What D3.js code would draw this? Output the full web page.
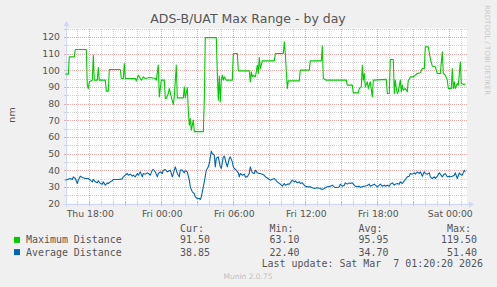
<!DOCTYPE html>
<html><head><meta charset="utf-8">
<script src="https://cdn.jsdelivr.net/npm/d3@7"></script>
<style>
html,body{margin:0;padding:0;background:#F0F0F0;}
svg{display:block;}
text{font-family:"DejaVu Sans",sans-serif;}
.mono{font-family:"DejaVu Sans Mono",monospace;}
</style></head>
<body>
<script>
// ---- data (time = 5-minute steps after Thu 16:00) ----
const title = "ADS-B/UAT Max Range - by day";
const yLabel = "nm";
const startTime = new Date(2026, 2, 5, 16, 0);
const stepMinutes = 5;
const totalSteps = 400;
const yTicks = [20,30,40,50,60,70,80,90,100,110,120];
const xTickLabels = ["Thu 18:00","Fri 00:00","Fri 06:00","Fri 12:00","Fri 18:00","Sat 00:00"];

const maxDistance = [[0,97.6],[3,97.6],[4,108],[9,108],[10,112.4],[21,112.4],[22,91],[23,89],[24,93],[27,94],[28,109],[29,94],[32,94],[33,101.6],[34,94],[40,94],[41,87.4],[43,87.4],[44,100.4],[55,100.4],[56,95],[58,95],[59,104],[60,95],[70,95],[71,93.5],[73,97],[75,95],[76,94],[78,96],[80,95],[83,95.5],[86,95.5],[90,95],[91,94],[93,103],[94,84],[96,94],[99,94],[100,83],[101,83],[103,86],[104,89],[106,84],[108,79.5],[109,84],[111,103],[112,83.4],[118,83.4],[119,90],[120,83.4],[122,89.5],[123,76],[124,67],[125,71],[126,64],[128,70],[129,63.1],[138,63.1],[139,82],[140,119.5],[151,119.5],[152,98],[153,82],[154,96.5],[155,81],[156,94],[157,97],[158,94],[159,96],[161,94],[167,94],[168,110],[172,110],[173,99.6],[184,99.6],[185,93],[186,99],[187,96],[188,97],[190,96],[191,99],[192,103],[193,98],[194,107.6],[195,101],[196,103],[197,105.6],[209,105.6],[210,110],[218,110],[219,117],[220,110],[222,89],[223,93.6],[234,93.6],[235,100],[244,100],[245,105.6],[256,105.6],[257,114.4],[258,95],[261,94],[281,94],[282,91],[287,91],[288,86.4],[293,86.4],[294,89],[296,90],[297,103],[298,94],[299,98],[300,90],[302,93],[303,89],[305,93],[307,84],[308,94],[321,94.5],[322,86],[324,86],[325,106.4],[328,106.4],[329,86],[330,94],[331,89],[332,86],[333,87],[335,94],[336,87],[337,91],[338,88],[340,89],[342,87],[343,94],[344,94.5],[345,96],[348,96],[352,98],[355,98.5],[357,101],[359,101],[360,114],[363,114],[365,107],[367,102.4],[370,102],[372,98],[375,98],[377,111],[378,98],[380,97],[382,94],[383,89],[386,89],[387,101],[388,89],[389,93],[390,89],[392,92],[393,91],[395,105],[396,92],[398,91.5],[400,91.5]];

const avgDistance = [[0,34],[5,35],[7,34.4],[8,36],[10,35],[12,32],[13,34],[15,36.4],[17,35.6],[20,35],[23,35],[25,34],[27,33],[28,34.4],[30,33],[32,32.4],[33,33.6],[35,32],[37,31.6],[38,33],[40,31],[42,32.4],[43,32],[45,33],[47,33.6],[48,34.4],[50,34.4],[53,34.4],[57,34.8],[58,36],[60,37],[62,38],[63,37],[65,37.6],[67,36.4],[68,37],[70,36],[72,38],[73,37],[75,39],[77,36],[78,38],[80,37.6],[82,38.4],[83,38],[85,37],[87,40],[88,40.4],[90,39],[92,36],[93,38],[95,39],[97,38],[98,40],[100,40.4],[102,39],[105,40],[107,36],[109,40],[110,42],[112,38],[114,36],[115,40],[117,40],[119,38.4],[120,39.6],[122,39],[124,34],[125,30],[127,27],[129,26],[130,24],[132,23],[134,23],[135,22.4],[136,24],[138,30],[139,33],[141,40],[143,42],[144,44],[146,51.4],[147,50],[149,49],[150,42],[151,47],[153,48],[155,42],[156,41],[158,48],[159,48.4],[161,44],[162,42],[164,47],[165,48],[167,45],[168,42],[169,41],[171,40],[173,38.4],[174,36],[175,38],[177,37],[179,37.6],[180,36],[182,36],[184,38],[185,42],[187,38.4],[189,38],[190,40],[192,38.4],[194,38],[195,38],[197,37.6],[199,37],[200,36],[202,35.3],[205,34],[209,35],[212,33],[215,31.6],[217,30.4],[219,32],[220,31],[222,31.6],[224,31.6],[225,32.4],[227,34],[229,33],[230,33.6],[232,32.4],[234,33],[235,32],[237,32.4],[239,31],[240,30.4],[242,30],[245,30],[247,29.4],[249,29],[252,29.4],[255,29],[257,28.4],[259,29],[262,30],[265,30.4],[267,31],[269,30],[270,29.6],[272,29.6],[274,30],[275,31.6],[277,30.4],[279,31],[280,32.4],[282,31.6],[284,32.4],[285,32],[287,32.4],[289,31],[290,30.4],[292,30],[294,30.4],[295,29.6],[297,30],[299,30.4],[302,30.8],[304,31.6],[305,30.4],[307,31],[309,31.6],[310,31],[312,30],[314,31],[315,31.6],[317,30.4],[319,31],[320,30.4],[322,31],[324,30.4],[325,31.6],[327,32.4],[329,31],[330,31.6],[332,32],[334,31.6],[335,33],[337,32],[339,33.6],[340,34.4],[342,36],[344,36.4],[345,38],[347,37.6],[349,38.4],[350,37.6],[352,39],[354,38],[355,39],[357,36.4],[359,39],[360,38],[362,37.6],[364,38.4],[365,36],[367,35],[369,36],[370,35],[372,36.4],[374,38.4],[375,37.6],[377,36],[379,37.6],[380,38],[382,36],[384,36.4],[385,36],[387,36.4],[389,37],[390,38.4],[392,35],[394,38.4],[395,37.6],[397,37],[399,40],[400,38.85]];

const seriesNames = ["Maximum Distance","Average Distance"];
const seriesColors = ["#00CC00","#0066B3"];
const statHeaders = ["Cur:","Min:","Avg:","Max:"];
const statCur = ["91.50","38.85"];
const statMin = ["63.10","22.40"];
const statAvg = ["95.95","34.70"];
const statMax = ["119.50","51.40"];
const lastUpdate = "Last update: Sat Mar  7 01:20:20 2026";
const footer = "Munin 2.0.75";
const sideText = "RRDTOOL / TOBI OETIKER";

// ---- drawing ----
const W = 497, H = 287;
const svg = d3.select("body").append("svg").attr("width", W).attr("height", H);
svg.append("rect").attr("width", W).attr("height", H).attr("fill", "#F0F0F0");

const toTime = s => new Date(startTime.getTime() + s * stepMinutes * 60000);
const endTime = toTime(totalSteps);
const x = d3.scaleTime().domain([startTime, endTime]).range([65.3, 465.3]);
const y = d3.scaleLinear().domain([20, 125]).range([203.5, 28.5]);

const L = 66, R = 467, T = y(125), B = y(20);
svg.append("rect").attr("x", L).attr("y", T).attr("width", R - L).attr("height", B - T).attr("fill", "#FFFFFF");

const gridMinor = "#D2D2D2";
const gridMajor = "#EFA9A9";
const g = svg.append("g").attr("shape-rendering", "crispEdges");

// horizontal grid
d3.range(25, 126, 5).forEach(v => {
  const major = v % 10 === 0;
  g.append("line").attr("x1", L).attr("x2", R).attr("y1", Math.round(y(v)) + 0.5).attr("y2", Math.round(y(v)) + 0.5)
    .attr("stroke", major ? gridMajor : gridMinor).attr("stroke-width", 1).attr("stroke-dasharray", "1,1");
});
// vertical grid
const hours = d3.timeHour.every(1).range(startTime, endTime);
hours.forEach(t => {
  const px = Math.floor(x(t)) + 0.5;
  if (px <= L + 1) return;
  const major = t.getHours() % 3 === 0;
  g.append("line").attr("x1", px).attr("x2", px).attr("y1", T).attr("y2", B)
    .attr("stroke", major ? gridMajor : gridMinor).attr("stroke-width", 1).attr("stroke-dasharray", "1,1");
  g.append("line").attr("x1", px).attr("x2", px).attr("y1", B - 2).attr("y2", B + 2)
    .attr("stroke", major ? gridMajor : gridMinor).attr("stroke-width", 1);
});
d3.range(25, 126, 5).forEach(v => {
  const major = v % 10 === 0;
  g.append("line").attr("x1", L - 2).attr("x2", L + 2).attr("y1", Math.round(y(v)) + 0.5).attr("y2", Math.round(y(v)) + 0.5)
    .attr("stroke", major ? gridMajor : gridMinor).attr("stroke-width", 1);
});

// axes
const axisCol = "#CFD6F8";
g.append("line").attr("x1", L - 3).attr("x2", 472).attr("y1", Math.round(B) + 0.5).attr("y2", Math.round(B) + 0.5).attr("stroke", axisCol);
g.append("line").attr("x1", L + 0.5).attr("x2", L + 0.5).attr("y1", B + 3).attr("y2", 23).attr("stroke", axisCol);
const by = Math.round(B) + 0.5;
svg.append("path").attr("d", `M${469},${by - 3}L${474},${by}L${469},${by + 3}Z`).attr("fill", axisCol);
svg.append("path").attr("d", `M${L + 0.5 - 3},26L${L + 0.5},21L${L + 0.5 + 3},26Z`).attr("fill", axisCol);

// lines
const line = d3.line().x(d => x(toTime(d[0]))).y(d => y(d[1]));
[maxDistance, avgDistance].forEach((data, i) => {
  svg.append("path").datum(data).attr("d", line).attr("fill", "none")
    .attr("stroke", seriesColors[i]).attr("stroke-width", 1.1).attr("stroke-linejoin", "round");
});

const fontCol = "#555555";
// y ticks
yTicks.forEach(v => {
  svg.append("text").attr("x", 60).attr("y", y(v)).attr("dy", "0.36em").attr("text-anchor", "end")
    .attr("font-size", 9.3).attr("fill", fontCol).text(v);
});
// x tick labels
const fmt = d3.timeFormat("%a %H:%M");
d3.timeHour.every(6).range(startTime, endTime).forEach(t => {
  const lbl = fmt(t);
  if (!xTickLabels.includes(lbl)) return;
  svg.append("text").attr("x", x(t) + 1).attr("y", 216.5).attr("text-anchor", "middle")
    .attr("font-size", 9.3).attr("fill", fontCol).text(lbl);
});

// title
svg.append("text").attr("x", 248).attr("y", 23).attr("text-anchor", "middle")
  .attr("font-size", 12.5).attr("fill", fontCol).text(title);
// y label
svg.append("text").attr("transform", "translate(15,115) rotate(-90)").attr("text-anchor", "middle")
  .attr("font-size", 9.5).attr("fill", fontCol).text(yLabel);
// side text
svg.append("text").attr("transform", "translate(485,5) rotate(90)").attr("text-anchor", "start")
  .attr("font-size", 7).attr("fill", "#C8C8C8").text(sideText);

// legend
const mono = svg.append("g").attr("class", "mono").attr("font-size", 9.95).attr("fill", fontCol);
const colRight = [210, 299.5, 388.5, 477];
statHeaders.forEach((h, i) => {
  mono.append("text").attr("class", "mono").attr("x", colRight[i] - 6).attr("y", 232.3).attr("text-anchor", "end").text(h);
});
const rowsY = [243.4, 255.6];
seriesNames.forEach((n, i) => {
  svg.append("rect").attr("x", 14).attr("y", rowsY[i] - 6.5).attr("width", 6).attr("height", 6).attr("fill", seriesColors[i]);
  mono.append("text").attr("class", "mono").attr("x", 26).attr("y", rowsY[i]).text(n);
  [statCur, statMin, statAvg, statMax].forEach((arr, j) => {
    mono.append("text").attr("class", "mono").attr("x", colRight[j]).attr("y", rowsY[i]).attr("text-anchor", "end").text(arr[i]);
  });
});
mono.append("text").attr("class", "mono").attr("x", 483).attr("y", 266.7).attr("text-anchor", "end")
  .attr("xml:space", "preserve").style("white-space", "pre").text(lastUpdate);
svg.append("text").attr("x", 248).attr("y", 279).attr("text-anchor", "middle")
  .attr("font-size", 7.5).attr("fill", "#C0C0C0").text(footer);
</script>
</body></html>
